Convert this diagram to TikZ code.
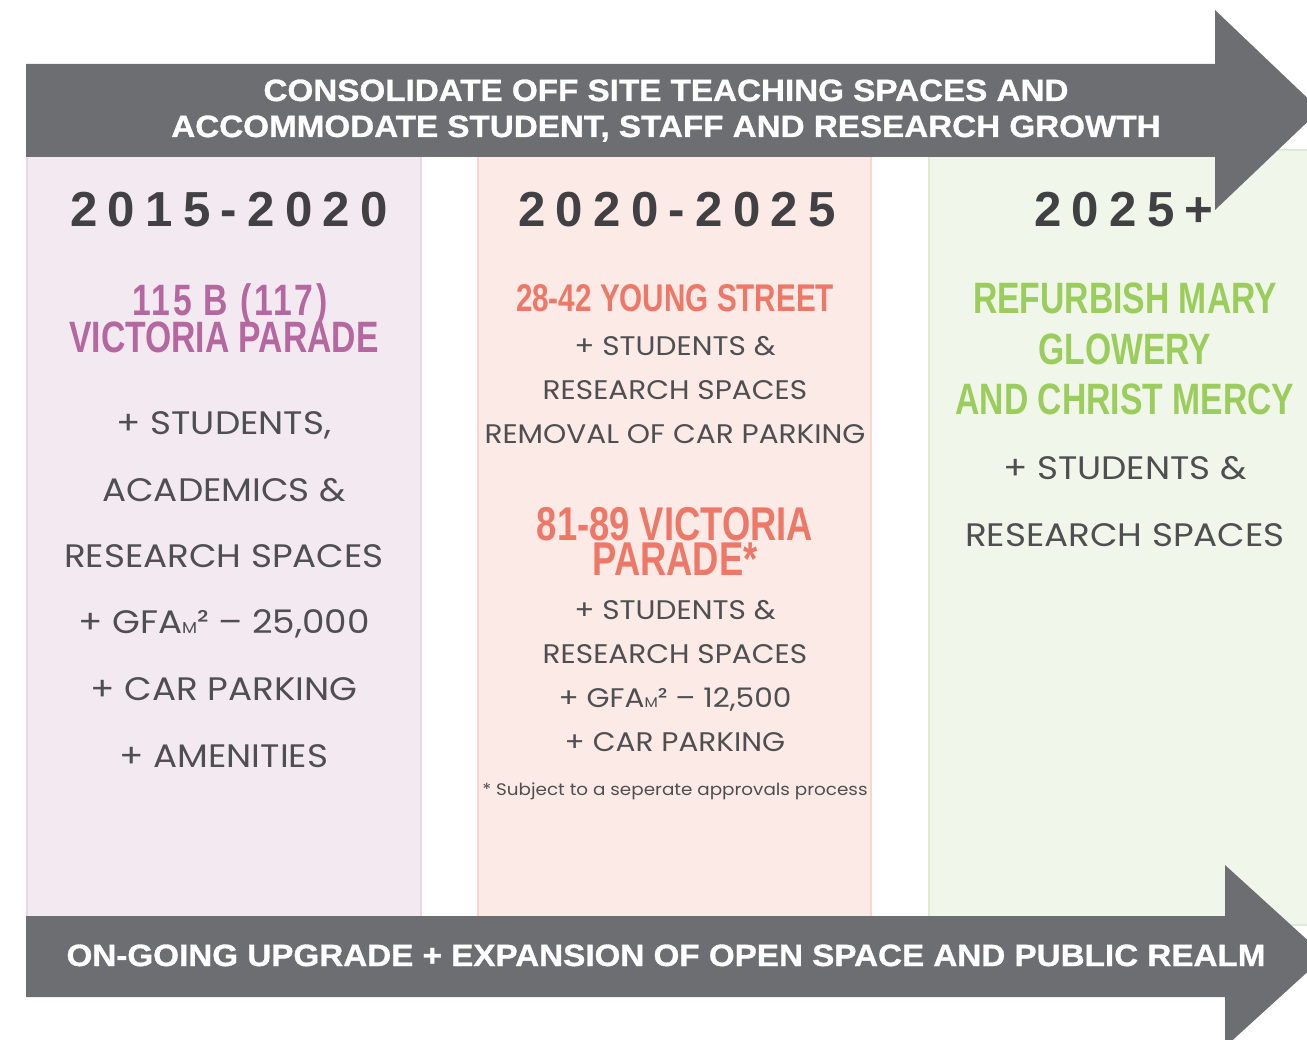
\documentclass[tikz,border=0pt]{standalone}
\usepackage{fontspec}
\setmainfont{Poppins}[FakeStretch=1.1]
\newfontfamily\headfont[FakeStretch=0.767]{Liberation Sans}
\newfontfamily\bannerfont[FakeStretch=1.08,FakeBold=1]{Liberation Sans}
\newfontfamily\yearfont[LetterSpace=21]{Liberation Sans}
\definecolor{arrowgray}{HTML}{6D6E71}
\definecolor{bodytext}{HTML}{4F4F51}
\definecolor{yeartext}{HTML}{414042}
\definecolor{pinkfill}{HTML}{F3E9F1}
\definecolor{pinkline}{HTML}{E8D7E4}
\definecolor{pinktext}{HTML}{B5679F}
\definecolor{peachfill}{HTML}{FBEAE6}
\definecolor{peachline}{HTML}{F9D5CC}
\definecolor{peachtext}{HTML}{EE7868}
\definecolor{greenfill}{HTML}{F0F6E9}
\definecolor{greenline}{HTML}{DFECD2}
\definecolor{greentext}{HTML}{9BCD5C}
\begin{document}
\begin{tikzpicture}[x=0.02cm, y=-0.02cm,
  banner/.style={text=white, anchor=base, font=\bannerfont\bfseries\fontsize{17.5}{20}\selectfont},
  year/.style={text=yeartext, anchor=base, font=\yearfont\bfseries\fontsize{28}{30}\selectfont},
  sitehead/.style={anchor=base, inner sep=0pt, font=\headfont\bfseries\fontsize{25}{25}\selectfont},
  bigitem/.style={text=bodytext, anchor=base, font=\fontsize{18.5}{20}\selectfont},
  item/.style={text=bodytext, anchor=base, font=\fontsize{15.3}{17}\selectfont},
  note/.style={text=bodytext, anchor=base, font=\fontsize{9.5}{11}\selectfont},
  column/.style={line width=0.04cm}]
\useasboundingbox (0,0) rectangle (1307,1040);
\clip (0,0) rectangle (1307,1040);
\filldraw[column, fill=pinkfill, draw=pinkline] (27,150) rectangle (421,925);
\filldraw[column, fill=peachfill, draw=peachline] (478,150) rectangle (871,925);
\filldraw[column, fill=greenfill, draw=greenline] (929,150) rectangle (1340,925);
\fill[arrowgray] (26,64) -- (1215,64) -- (1215,10) -- (1320,110) -- (1215,210) -- (1215,157) -- (26,157) -- cycle;
\fill[arrowgray] (26,916) -- (1225,916) -- (1225,865) -- (1325,956) -- (1225,1047) -- (1225,997) -- (26,997) -- cycle;
\node[banner] (top1) at (666,101) {CONSOLIDATE OFF SITE TEACHING SPACES AND};
\node[banner] (top2) at (666,137) {ACCOMMODATE STUDENT, STAFF AND RESEARCH GROWTH};
\node[banner] (bottom) at (666,966) {ON-GOING UPGRADE + EXPANSION OF OPEN SPACE AND PUBLIC REALM};
\node[year] (y1) at (229,227) {2015-2020};
\node[year] (y2) at (677,227) {2020-2025};
\node[year] (y3) at (1124,227) {2025+};
\node[sitehead, text=pinktext] (s1a) at (230,316) {\addfontfeatures{LetterSpace=6}115 B (117)};
\node[sitehead, text=pinktext] (s1b) at (224,352) {VICTORIA PARADE};
\node[bigitem] (a1) at (224,434) {+ STUDENTS,};
\node[bigitem] (a2) at (224,501) {ACADEMICS \&};
\node[bigitem] (a3) at (224,567) {RESEARCH SPACES};
\node[bigitem] (a4) at (224,633) {+ GFA{\small M}² – 25,000};
\node[bigitem] (a5) at (224,700) {+ CAR PARKING};
\node[bigitem] (a6) at (224,767) {+ AMENITIES};
\node[sitehead, text=peachtext, font=\headfont\bfseries\fontsize{22}{22}\selectfont] (s2a) at (675,312) {28-42 YOUNG STREET};
\node[item] (b1) at (675,355) {+ STUDENTS \&};
\node[item] (b2) at (675,399) {RESEARCH SPACES};
\node[item] (b3) at (675,443) {REMOVAL OF CAR PARKING};
\node[sitehead, text=peachtext, font=\headfont\bfseries\fontsize{27}{27}\selectfont] (s2b) at (675,540) {81-89 VICTORIA};
\node[sitehead, text=peachtext, font=\headfont\bfseries\fontsize{27}{27}\selectfont] (s2c) at (675,575) {PARADE*};
\node[item] (c1) at (675,619) {+ STUDENTS \&};
\node[item] (c2) at (675,663) {RESEARCH SPACES};
\node[item] (c3) at (675,707) {+ GFA{\footnotesize M}² – 12,500};
\node[item] (c4) at (675,751) {+ CAR PARKING};
\node[note] (fn) at (675,795) {* Subject to a seperate approvals process};
\node[sitehead, text=greentext] (s3a) at (1125,314) {REFURBISH MARY};
\node[sitehead, text=greentext] (s3b) at (1125,364) {GLOWERY};
\node[sitehead, text=greentext] (s3c) at (1125,414) {AND CHRIST MERCY};
\node[bigitem] (d1) at (1125,479) {+ STUDENTS \&};
\node[bigitem] (d2) at (1125,546) {RESEARCH SPACES};
\end{tikzpicture}
\end{document}
